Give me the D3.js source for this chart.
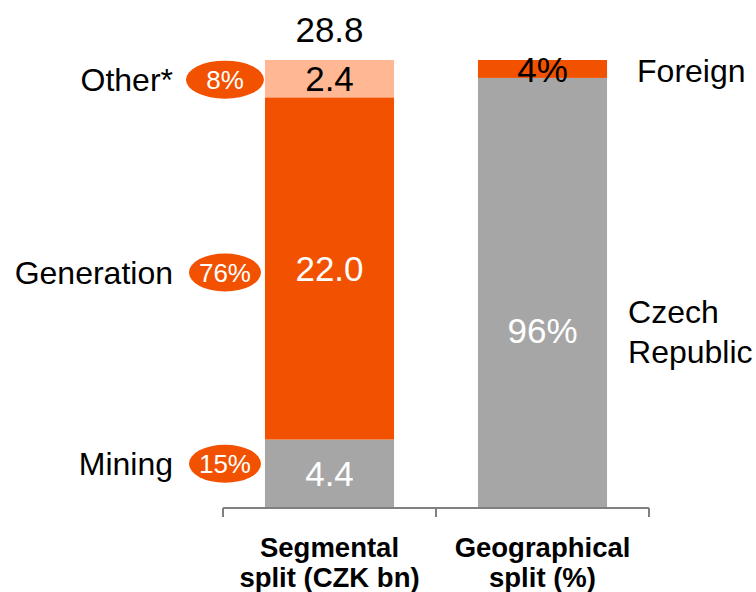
<!DOCTYPE html>
<html>
<head>
<meta charset="utf-8">
<script src="https://cdn.jsdelivr.net/npm/d3@7"></script>
<style>
  body { margin: 0; background: #fff; }
  text { font-family: Arial, "Liberation Sans", sans-serif; }
</style>
</head>
<body>
<div id="chart"></div>
<script>
// data
const categories = ["Segmental\nsplit (CZK bn)", "Geographical\nsplit (%)"]
const segNames = ["Mining", "Generation", "Other*"]
const segValues = [4.4, 22.0, 2.4]
const segShares = ["15%", "76%", "8%"]
const segTotal = 28.8
const geoNames = ["Czech\nRepublic", "Foreign"]
const geoValues = [96, 4]

const orange = "#f25100"
const peach = "#ffb893"
const grey = "#a6a6a6"

const w = 756
const h = 592
const svg = d3.select("#chart").append("svg")
    .attr("width", w)
    .attr("height", h)

const x = d3.scaleBand()
    .domain(categories)
    .range([223, 649])
    .paddingInner(0.394)
    .paddingOuter(0.197)

const ySeg = d3.scaleLinear().domain([0, segTotal]).range([508, 60])
const yGeo = d3.scaleLinear().domain([0, 100]).range([508, 60])

// stack the segments
function stackUp(vals) {
    let acc = 0
    return vals.map((v) => {
        const s = { y0: acc, y1: acc + v, v: v }
        acc += v
        return s
    })
}
const segStack = stackUp(segValues)
const geoStack = stackUp(geoValues)

const segColors = [grey, orange, peach]
const geoColors = [grey, orange]

// left bar
const bx0 = x(categories[0])
svg.selectAll(".seg")
    .data(segStack)
    .enter().append("rect")
    .attr("class", "seg")
    .attr("x", bx0)
    .attr("width", x.bandwidth())
    .attr("y", (d) => ySeg(d.y1))
    .attr("height", (d) => ySeg(d.y0) - ySeg(d.y1))
    .style("fill", (d, i) => segColors[i])

svg.selectAll(".segval")
    .data(segStack)
    .enter().append("text")
    .attr("x", bx0 + x.bandwidth() / 2)
    .attr("y", (d) => (ySeg(d.y0) + ySeg(d.y1)) / 2)
    .attr("dy", "0.36em")
    .attr("text-anchor", "middle")
    .style("font-size", "35px")
    .style("fill", (d, i) => i === 2 ? "#000" : "#fff")
    .text((d) => d.v.toFixed(1))

svg.append("text")
    .attr("x", bx0 + x.bandwidth() / 2)
    .attr("y", ySeg(segTotal) - 18)
    .attr("text-anchor", "middle")
    .style("font-size", "35px")
    .style("fill", "#000")
    .text(segTotal.toFixed(1))

// names + share bubbles on the left
const nudge = [-10, 4, 1]
segStack.forEach((d, i) => {
    const cy = (ySeg(d.y0) + ySeg(d.y1)) / 2 + nudge[i]
    const cx = bx0 - 40
    const rx = segShares[i].length > 2 ? 36 : 39
    svg.append("ellipse")
        .attr("cx", cx)
        .attr("cy", cy)
        .attr("rx", rx)
        .attr("ry", 19)
        .style("fill", orange)
    svg.append("text")
        .attr("x", cx)
        .attr("y", cy)
        .attr("dy", "0.36em")
        .attr("text-anchor", "middle")
        .style("font-size", "26px")
        .style("fill", "#fff")
        .text(segShares[i])
    svg.append("text")
        .attr("x", 173)
        .attr("y", cy)
        .attr("dy", "0.36em")
        .attr("text-anchor", "end")
        .style("font-size", "32px")
        .style("fill", "#000")
        .text(segNames[i])
})

// right bar
const bx1 = x(categories[1])
svg.selectAll(".geo")
    .data(geoStack)
    .enter().append("rect")
    .attr("class", "geo")
    .attr("x", bx1)
    .attr("width", x.bandwidth())
    .attr("y", (d) => yGeo(d.y1))
    .attr("height", (d) => yGeo(d.y0) - yGeo(d.y1))
    .style("fill", (d, i) => geoColors[i])

const geoNudge = [37, 0]
svg.selectAll(".geoval")
    .data(geoStack)
    .enter().append("text")
    .attr("x", bx1 + x.bandwidth() / 2)
    .attr("y", (d, i) => (yGeo(d.y0) + yGeo(d.y1)) / 2 + geoNudge[i])
    .attr("dy", "0.36em")
    .attr("text-anchor", "middle")
    .style("font-size", "35px")
    .style("fill", (d, i) => i === 1 ? "#000" : "#fff")
    .text((d) => d.v + "%")

const geoLabelX = [bx1 + x.bandwidth() + 21, bx1 + x.bandwidth() + 30]
geoStack.forEach((d, i) => {
    const lines = geoNames[i].split("\n")
    const cy = (yGeo(d.y0) + yGeo(d.y1)) / 2 + geoNudge[i] + 2
    const t = svg.append("text")
        .attr("x", geoLabelX[i])
        .attr("y", cy - (lines.length - 1) * 20)
        .style("font-size", "32px")
        .style("fill", "#000")
    lines.forEach((ln, k) => {
        t.append("tspan")
            .attr("x", geoLabelX[i])
            .attr("dy", k === 0 ? "0.36em" : "40px")
            .text(ln)
    })
})

// category axis
const axisY = 508
svg.append("line")
    .attr("x1", 223).attr("x2", 649)
    .attr("y1", axisY).attr("y2", axisY)
    .style("stroke", "#808080")
    .style("stroke-width", 2)

const tickXs = [x.range()[0], x.range()[0] + x.step() * (1 - x.paddingInner() / 2 + x.paddingOuter()) , x.range()[1]]
svg.selectAll(".tick")
    .data(tickXs)
    .enter().append("line")
    .attr("x1", (d) => d).attr("x2", (d) => d)
    .attr("y1", axisY).attr("y2", axisY + 9)
    .style("stroke", "#808080")
    .style("stroke-width", 2)

categories.forEach((c) => {
    const lines = c.split("\n")
    const t = svg.append("text")
        .attr("text-anchor", "middle")
        .style("font-size", "27.5px")
        .style("font-weight", "bold")
        .style("fill", "#000")
    lines.forEach((ln, k) => {
        t.append("tspan")
            .attr("x", x(c) + x.bandwidth() / 2)
            .attr("y", 557 + k * 30)
            .text(ln)
    })
})
</script>
</body>
</html>
